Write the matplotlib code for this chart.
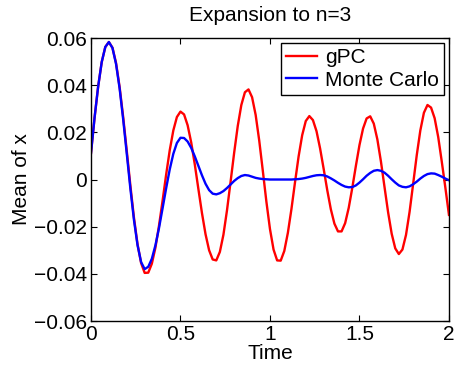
import matplotlib
matplotlib.use("Agg")
import matplotlib.pyplot as plt

# Time grid and curves (step 0.02)
time = [round(0.02 * i, 2) for i in range(101)]

gpc_mean = [
    0.0112, 0.0262, 0.0394, 0.0498, 0.0562, 0.0583, 0.0559, 0.0494, 0.0392, 0.0264,
    0.0121, -0.0025, -0.0161, -0.0274, -0.0354, -0.0396, -0.0395, -0.0357, -0.0289, -0.0196,
    -0.0090, 0.0021, 0.0124, 0.0208, 0.0265, 0.0288, 0.0276, 0.0230, 0.0157, 0.0064,
    -0.0040, -0.0142, -0.0232, -0.0300, -0.0339, -0.0343, -0.0307, -0.0234, -0.0130, -0.0009,
    0.0114, 0.0227, 0.0316, 0.0370, 0.0382, 0.0349, 0.0274, 0.0165, 0.0037, -0.0094,
    -0.0210, -0.0297, -0.0343, -0.0344, -0.0303, -0.0226, -0.0125, -0.0011, 0.0098, 0.0188,
    0.0248, 0.0269, 0.0252, 0.0205, 0.0132, 0.0045, -0.0045, -0.0126, -0.0187, -0.0220,
    -0.0220, -0.0185, -0.0120, -0.0035, 0.0058, 0.0146, 0.0216, 0.0259, 0.0268, 0.0237,
    0.0170, 0.0076, -0.0032, -0.0139, -0.0230, -0.0292, -0.0316, -0.0297, -0.0235, -0.0137,
    -0.0018, 0.0103, 0.0208, 0.0283, 0.0316, 0.0305, 0.0260, 0.0180, 0.0075, -0.0035,
    -0.0150,
]

mc_mean = [
    0.0112, 0.0262, 0.0394, 0.0498, 0.0562, 0.0583, 0.0558, 0.0490, 0.0386, 0.0254,
    0.0109, -0.0038, -0.0171, -0.0278, -0.0350, -0.0380, -0.0370, -0.0336, -0.0279, -0.0206,
    -0.0122, -0.0037, 0.0043, 0.0109, 0.0155, 0.0177, 0.0176, 0.0161, 0.0134, 0.0098,
    0.0058, 0.0018, -0.0018, -0.0045, -0.0060, -0.0063, -0.0058, -0.0049, -0.0036, -0.0021,
    -0.0006, 0.0006, 0.0015, 0.0019, 0.0017, 0.0012, 0.0007, 0.0004, 0.0002, 0.0001,
    0.0000, 0.0000, 0.0000, 0.0000, 0.0000, 0.0000, 0.0000, 0.0001, 0.0002, 0.0004,
    0.0007, 0.0011, 0.0015, 0.0018, 0.0019, 0.0018, 0.0013, 0.0005, -0.0004, -0.0014,
    -0.0023, -0.0030, -0.0033, -0.0032, -0.0025, -0.0013, 0.0001, 0.0016, 0.0028, 0.0037,
    0.0040, 0.0037, 0.0029, 0.0016, 0.0001, -0.0013, -0.0025, -0.0031, -0.0033, -0.0029,
    -0.0020, -0.0009, 0.0004, 0.0015, 0.0023, 0.0026, 0.0025, 0.0019, 0.0012, 0.0004,
    -0.0003,
]

x_ticks = [0, 0.5, 1, 1.5, 2]
x_labels = ["0", "0.5", "1", "1.5", "2"]
y_ticks = [-0.06, -0.04, -0.02, 0, 0.02, 0.04, 0.06]
y_labels = ["\u22120.06", "\u22120.04", "\u22120.02", "0", "0.02", "0.04", "0.06"]

plt.rcParams["font.family"] = ["Liberation Sans", "DejaVu Sans"]
plt.rcParams["font.size"] = 15

fig = plt.figure(figsize=(4.54, 3.67), dpi=100)
ax = fig.add_axes([0.2004, 0.1253, 0.7885, 0.7711])

ax.plot(time, gpc_mean, color="#ff0000", linewidth=1.7, label="gPC")
ax.plot(time, mc_mean, color="#0000ff", linewidth=1.7, label="Monte Carlo")

ax.set_xlim(0, 2)
ax.set_ylim(-0.06, 0.06)
ax.set_xticks(x_ticks)
ax.set_xticklabels(x_labels)
ax.set_yticks(y_ticks)
ax.set_yticklabels(y_labels)
ax.tick_params(direction="in", length=4, width=0.8, top=True, right=True,
               labelsize=15, pad=3)
for s in ax.spines.values():
    s.set_linewidth(1.0)

ax.set_xlabel("Time", labelpad=0)
ax.set_ylabel("Mean of x", labelpad=2)
ax.set_title("Expansion to n=3", fontsize=15, pad=12)

leg = ax.legend(loc="upper right", fancybox=False, framealpha=1,
                edgecolor="black", handlelength=1.5, handletextpad=0.35,
                borderpad=0.25, labelspacing=0.15, borderaxespad=0.25)
leg.get_frame().set_linewidth(1.0)

fig.savefig("out.png", dpi=100)
